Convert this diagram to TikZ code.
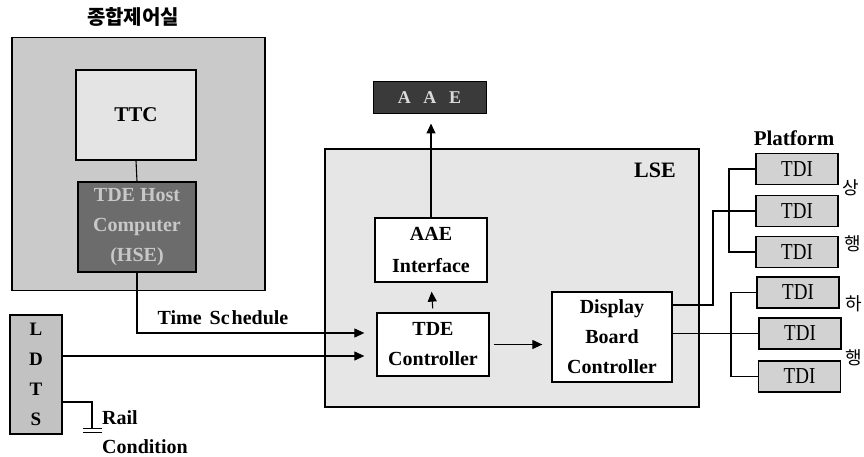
\documentclass[tikz,border=0pt]{standalone}
\usepackage{fontspec}
\setmainfont{Liberation Serif}
\newfontfamily\kr{Noto Sans CJK KR}
\usetikzlibrary{arrows.meta}
\definecolor{outerg}{HTML}{CACACA}
\definecolor{ttcg}{HTML}{E4E4E4}
\definecolor{hseg}{HTML}{6C6C6C}
\definecolor{hset}{HTML}{C8C8C8}
\definecolor{ldtsg}{HTML}{C2C2C2}
\definecolor{lseg}{HTML}{E6E6E6}
\definecolor{tdig}{HTML}{D2D2D2}
\definecolor{aaeg}{HTML}{3A3A3A}
\definecolor{aaet}{HTML}{DADADA}
\newcommand{\tditext}{\scalebox{1}[1.2]{TDI}}
\tikzset{
  box/.style={draw=black, line width=1.3pt, inner sep=0pt, align=center, font=\fontsize{20}{30}\selectfont\bfseries},
  tdibox/.style={draw=black, line width=1.3pt, fill=tdig, minimum width=82pt, minimum height=31pt, inner sep=0pt, font=\fontsize{19}{20}\selectfont},
  conn/.style={line width=1.1pt},
  arr/.style={conn, -{Triangle[length=10pt,width=9pt]}},
  lbl/.style={inner sep=0pt, font=\fontsize{20}{22}\selectfont\bfseries},
  krl/.style={inner sep=0pt, font=\kr\fontsize{18}{20}\selectfont}
}
\begin{document}
\begin{tikzpicture}[x=1pt,y=-1pt]
\useasboundingbox (0,0) rectangle (864,457);
% title
\node[krl, font=\kr\fontsize{20}{22}\selectfont\bfseries] (title) at (133,17) {종합제어실};
% control room
\node[box, fill=outerg, minimum width=253pt, minimum height=253pt] (ctrl) at (138.5,164) {};
\node[box, fill=ttcg, minimum width=120pt, minimum height=90pt, font=\fontsize{21}{24}\selectfont\bfseries] (ttc) at (136,115) {TTC};
\node[box, fill=hseg, text=hset, minimum width=118pt, minimum height=90pt, font=\fontsize{20}{30}\selectfont\bfseries] (hse) at (137,227) {TDE Host\\Computer\\(HSE)};
\draw[conn] (ttc.south) -- (hse.north);
% LDTS
\node[box, fill=ldtsg, minimum width=52pt, minimum height=119pt, font=\fontsize{19}{30}\selectfont\bfseries] (ldts) at (36,374.5) {L\\D\\T\\S};
% LSE
\node[box, fill=lseg, line width=1.1pt, minimum width=374pt, minimum height=258pt] (lse) at (512,278) {};
\node[lbl, font=\fontsize{22}{24}\selectfont\bfseries] (lsel) at (655,170) {LSE};
\node[box, fill=aaeg, text=aaet, line width=1pt, minimum width=113pt, minimum height=32pt, font=\fontsize{18}{20}\selectfont\bfseries] (aae) at (429.5,98) {A\hspace{0.7em}A\hspace{0.7em}E};
\node[box, fill=white, minimum width=112pt, minimum height=64pt, font=\fontsize{20}{32}\selectfont\bfseries] (aaei) at (431,250) {AAE\\Interface};
\node[box, fill=white, minimum width=112pt, minimum height=63pt] (tde) at (433,344.5) {TDE\\Controller};
\node[box, fill=white, minimum width=120pt, minimum height=90pt] (dbc) at (612,337) {Display\\Board\\Controller};
% TDIs
\node[lbl, font=\fontsize{21}{22}\selectfont\bfseries] (plat) at (794,138) {Platform};
\node[tdibox] (tdi1) at (797,169) {\tditext};
\node[tdibox] (tdi2) at (797,211) {\tditext};
\node[tdibox] (tdi3) at (797,252) {\tditext};
\node[tdibox] (tdi4) at (798,292.5) {\tditext};
\node[tdibox] (tdi5) at (800,333.5) {\tditext};
\node[tdibox] (tdi6) at (799.5,376.5) {\tditext};
\node[krl, anchor=west] (k1) at (842,188) {상};
\node[krl, anchor=west] (k2) at (844,244) {행};
\node[krl, anchor=west] (k3) at (845,304) {하};
\node[krl, anchor=west] (k4) at (845,358) {행};
% connectors
\coordinate (tin1) at ([yshift=11.5pt]tde.west);
\coordinate (tin2) at ([yshift=-11.5pt]tde.west);
\draw[arr, shorten >=12pt] (hse.south) |- (tin1);
\node[lbl] (tsl) at (223,318) {Time\hspace{0.4em}Sc\hspace{0.1em}hedule};
\draw[arr, shorten >=12pt] (ldts.east |- tin2) -- (tin2);
\coordinate (gnd) at (92,428);
\draw[conn] (ldts.east |- 0,402) -| (gnd);
\draw[line width=1pt] (83,428) -- (102,428) (83,432) -- (102,432);
\node[lbl, anchor=west] (rail) at (102,418) {Rail};
\node[lbl, anchor=west] (cond) at (102,447) {Condition};
\draw[arr, shorten >=9pt] (aaei.north) -- (aaei.north |- aae.south);
\draw[arr, shorten <=4pt, shorten >=9pt] (tde.north) -- (aaei.south);
\draw[arr, shorten <=4pt, shorten >=9pt] (tde.east) -- (dbc.west |- tde.east);
\coordinate (u1) at ([yshift=32pt]dbc.east);
\coordinate (ub) at (713,305);
\draw[conn] (u1) -- (ub) |- (tdi2.west);
\coordinate (bx1) at (729,0);
\draw[conn] (tdi1.west) -| (bx1 |- tdi3.west) -- (tdi3.west);
\draw[conn] (dbc.east |- tdi5.west) -- (tdi5.west);
\coordinate (bx2) at (731,0);
\draw[conn] (tdi4.west) -| (bx2 |- tdi6.west) -- (tdi6.west);
\end{tikzpicture}
\end{document}
